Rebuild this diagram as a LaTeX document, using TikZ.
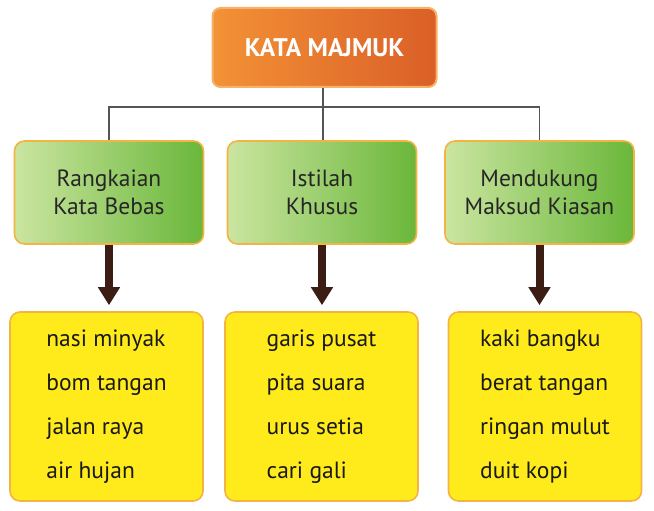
\documentclass[tikz,border=0pt]{standalone}
\usepackage{fontspec}
\setmainfont{PT Sans}
\usetikzlibrary{arrows.meta}

\definecolor{orangeL}{HTML}{F39236}
\definecolor{orangeR}{HTML}{DA5F27}
\definecolor{orangeB}{HTML}{F7B26A}
\definecolor{greenL}{HTML}{CBE5A0}
\definecolor{greenR}{HTML}{6AB73A}
\definecolor{boxB}{HTML}{F4B444}
\definecolor{itemY}{HTML}{FFEA1C}
\definecolor{linkG}{HTML}{555555}
\definecolor{arrowB}{HTML}{3B1D13}

\begin{document}
\begin{tikzpicture}[x=1pt,y=-1pt,
  topbox/.style={draw=orangeB,line width=2pt,rounded corners=8pt,
    left color=orangeL,right color=orangeR,text=white,
    font=\fontsize{25.5}{30}\selectfont\bfseries,
    minimum width=224pt,minimum height=79pt},
  kindbox/.style={draw=boxB,line width=1.6pt,rounded corners=10pt,
    left color=greenL,right color=greenR,text=black!85,align=center,
    font=\fontsize{23.5}{28}\selectfont,
    minimum width=189pt,minimum height=103pt},
  listbox/.style={draw=boxB,line width=1.6pt,rounded corners=10pt,
    fill=itemY,text=black!90,align=left,
    font=\fontsize{23.5}{44}\selectfont,
    minimum width=193pt,minimum height=189pt},
  link/.style={draw=linkG,line width=1.5pt},
  down/.style={draw=arrowB,line width=8pt,shorten >=6pt,
    -{Triangle[width=21pt,length=18pt]}}]
\useasboundingbox (0,0) rectangle (654,511);

% top
\node [topbox] (kata) at (324.5,47.5) {KATA MAJMUK};

% three kinds
\node [kindbox] (rangkaian) at (109,192.5) {Rangkaian\\Kata Bebas};
\node [kindbox] (istilah) at (322,192.5) {Istilah\\Khusus};
\node [kindbox] (mendukung) at (539.5,192.5) {Mendukung\\Maksud Kiasan};

% examples
\node [listbox] (contoh1) at (106.5,406.5)
  {nasi minyak\\bom tangan\\jalan raya\\air hujan};
\node [listbox] (contoh2) at (321.5,406.5)
  {garis pusat\\pita suara\\urus setia\\cari gali};
\node [listbox] (contoh3) at (545,406.5)
  {kaki bangku\\berat tangan\\ringan mulut\\duit kopi};

% tree lines
\coordinate (bar) at (323,107);
\draw [link] (bar |- kata.south) -- (bar);
\draw [link] (rangkaian.north) |- (bar) -| (mendukung.north);
\draw [link] (bar) -- (bar |- istilah.north);

% arrows
\draw [down] (rangkaian.south) -- (rangkaian.south |- contoh1.north);
\draw [down] (istilah.south) -- (istilah.south |- contoh2.north);
\draw [down] (mendukung.south) -- (mendukung.south |- contoh3.north);
\end{tikzpicture}
\end{document}
